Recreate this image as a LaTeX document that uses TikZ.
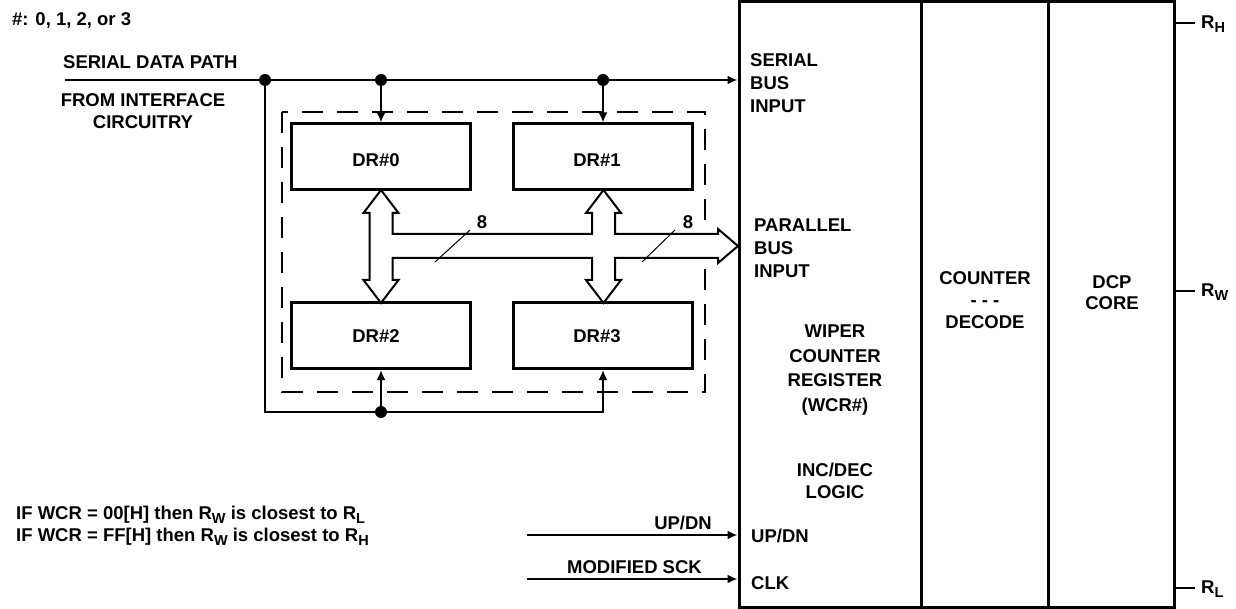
\documentclass[tikz,border=0pt]{standalone}
\usepackage{fontspec}
\setmainfont{Liberation Sans}
\usetikzlibrary{arrows.meta}
\newcommand\sbs[1]{\raisebox{-4.5pt}{\fontsize{14.5}{14.5}\selectfont #1}}
\begin{document}
\begin{tikzpicture}[x=1pt,y=-1pt,
  every node/.style={font=\fontsize{18.5}{23}\selectfont\bfseries, inner sep=0pt},
  blockbox/.style={draw, line width=3pt},
  drbox/.style={draw, line width=3pt, minimum width=179pt, minimum height=66pt},
  wire/.style={line width=2.2pt},
  tip/.style={-{Latex[length=10pt,width=9pt]}},
  busline/.style={line width=2pt, line join=miter},
  slash/.style={line width=1pt},
  dashbox/.style={draw, line width=2pt, dash pattern=on 21pt off 14pt},
  dot/.style={circle, fill, minimum size=12pt, inner sep=0pt},
  lbl/.style={align=left, anchor=west},
  clbl/.style={align=center}]
\useasboundingbox (0,0) rectangle (1236,609);

% main block
\node[blockbox, minimum width=182pt, minimum height=605pt] (wcr) at (830,304.5) {};
\node[blockbox, minimum width=127pt, minimum height=605pt] (cnt) at (984.5,304.5) {};
\node[blockbox, minimum width=126pt, minimum height=605pt] (dcp) at (1111,304.5) {};

% texts in main block
\node[lbl] (sbi) at (750,83.5) {SERIAL\\BUS\\INPUT};
\node[lbl] (pbi) at (754,248.5) {PARALLEL\\BUS\\INPUT};
\node[clbl, font=\fontsize{18.5}{22}\selectfont\bfseries] (cntt) at (985,300) {COUNTER\\- - -\\DECODE};
\node[clbl, font=\fontsize{18.5}{21}\selectfont\bfseries] (dcpt) at (1112,292.5) {DCP\\CORE};
\node[clbl, font=\fontsize{18.5}{24.7}\selectfont\bfseries] (wcrt) at (835,370) {WIPER\\COUNTER\\REGISTER\\(WCR\#)};
\node[clbl, font=\fontsize{18.5}{22}\selectfont\bfseries] (inc) at (835,481) {INC/DEC\\LOGIC};
\node[lbl] (updnin) at (751,536) {UP/DN};
\node[lbl] (clkin) at (751,583) {CLK};

% R outputs
\coordinate (rh) at (1195,23);
\coordinate (rw) at (1195,291);
\coordinate (rl) at (1195,588);
\draw[wire] (rh -| dcp.east) -- (rh);
\draw[wire] (rw -| dcp.east) -- (rw);
\draw[wire] (rl -| dcp.east) -- (rl);
\node[anchor=west] (rht) at (1201,24) {R\sbs{H}};
\node[anchor=west] (rwt) at (1201,292) {R\sbs{W}};
\node[anchor=west] (rlt) at (1201,589) {R\sbs{L}};

% top-left labels
\node[anchor=west] (hash) at (12,20) {\#: 0, 1, 2, or 3};
\node[anchor=west] (sdp) at (63,62) {SERIAL DATA PATH};
\node[clbl, font=\fontsize{18.5}{22}\selectfont\bfseries] (fic) at (143,111) {FROM INTERFACE\\CIRCUITRY};

% dashed box
\draw[dashbox] (282,112) rectangle (705,392);

% DR registers
\node[drbox] (dr0) at (380.5,157) {};
\node[drbox] (dr1) at (602.5,157) {};
\node[drbox] (dr2) at (380.5,335.5) {};
\node[drbox] (dr3) at (602.5,335.5) {};
\node (dr0t) at (376,160) {DR\#0};
\node (dr1t) at (597,160) {DR\#1};
\node (dr2t) at (376,336) {DR\#2};
\node (dr3t) at (597,336) {DR\#3};

% serial data path
\coordinate (sin) at (65,80);
\node[dot] (j0) at (265,80) {};
\node[dot] (j1) at (381,80) {};
\node[dot] (j2) at (603,80) {};
\draw[wire, tip] (sin) -- (sin -| wcr.west);
\draw[wire, tip] (j1.center) -- (j1 |- dr0.north);
\draw[wire, tip] (j2.center) -- (j2 |- dr1.north);
\coordinate (lb) at (265,412);
\coordinate (rb) at (603,412);
\node[dot] (j3) at (381,412) {};
\draw[wire, tip] (j0.center) -- (lb) -- (rb) -- (rb |- dr3.south);
\draw[wire, tip] (j3.center) -- (j3 |- dr2.south);

% parallel bus (hollow arrows)
\draw[busline, fill=white] (381,190) -- (398.5,213) -- (392.5,213) -- (392.5,234) -- (592,234) -- (592,213) -- (586,213) -- (603.5,190) -- (621,213) -- (615,213) -- (615,234) -- (718,234) -- (718,229) -- (738,246) -- (718,263) -- (718,258) -- (615,258) -- (615,280) -- (621,280) -- (603.5,303) -- (586,280) -- (592,280) -- (592,258) -- (392.5,258) -- (392.5,280) -- (398.5,280) -- (381,303) -- (363.5,280) -- (369.5,280) -- (369.5,213) -- (363.5,213) -- cycle;
\draw[slash] (435,262) -- (470,230);
\draw[slash] (642,262) -- (675,230);
\node (w1) at (482,222) {8};
\node (w2) at (688,222) {8};

% UP/DN and CLK inputs
\coordinate (upsrc) at (527,535);
\coordinate (clksrc) at (527,579);
\draw[wire, tip] (upsrc) -- (upsrc -| wcr.west);
\draw[wire, tip] (clksrc) -- (clksrc -| wcr.west);
\node[anchor=east] (updn) at (712,523) {UP/DN};
\node[anchor=east] (msck) at (702,567) {MODIFIED SCK};

% notes
\node[anchor=west] (n1) at (16,515) {IF WCR = 00[H] then R\sbs{W} is closest to R\sbs{L}};
\node[anchor=west] (n2) at (16,537) {IF WCR = FF[H] then R\sbs{W} is closest to R\sbs{H}};
\end{tikzpicture}
\end{document}
